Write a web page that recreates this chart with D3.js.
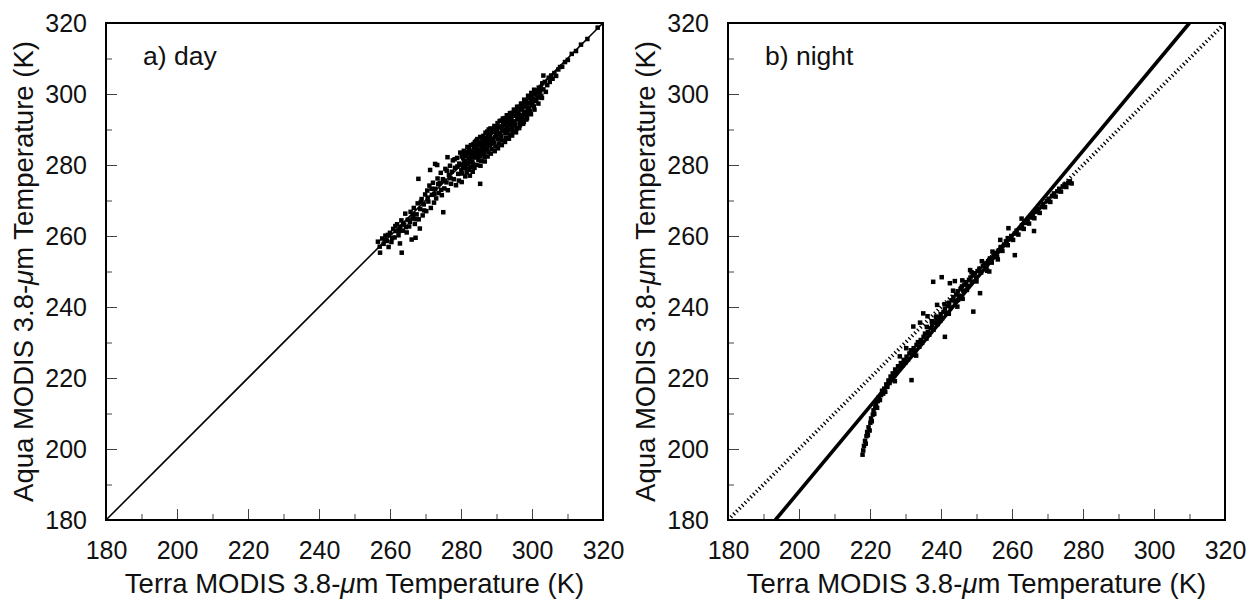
<!DOCTYPE html>
<html>
<head>
<meta charset="utf-8">
<script src="https://cdn.jsdelivr.net/npm/d3@7"></script>
<style>
  body { margin: 0; background: #fff; }
  svg text { font-family: "Liberation Sans", Arial, Helvetica, sans-serif; fill: #111; }
</style>
</head>
<body>
<script>
// axis range and tick values (K)
const domainK = [180, 320];
const majorTicks = [180, 200, 220, 240, 260, 280, 300, 320];
const minorTicks = [190, 210, 230, 250, 270, 290, 310];

// a) day: [Terra, Aqua] pairs
const dayPoints = [
  [256.6,258.4],[257.1,257.0],[257.2,255.3],[257.8,259.3],[258.2,257.8],[258.7,260.1],[259.1,258.6],[259.6,256.9],
  [260.0,260.9],[260.4,258.3],[260.9,262.0],[261.3,259.6],[261.7,261.4],[262.0,263.3],[262.4,260.2],[262.8,257.9],
  [263.3,255.3],[262.9,262.6],[263.2,264.4],[263.6,261.5],
  [264.0,263.2],[264.3,266.3],[264.7,261.0],[265.0,264.6],[265.4,262.7],[265.8,266.8],[266.1,259.0],[266.3,264.9],
  [266.7,267.9],[267.0,263.4],[267.2,259.5],[267.5,266.1],[267.8,269.2],
  [268.0,276.1],[268.1,264.7],[268.4,262.1],[268.5,267.6],[268.9,270.4],[269.2,265.8],[269.5,268.9],[269.9,271.7],
  [270.2,267.0],[270.5,272.8],[270.8,269.7],[271.1,274.2],[271.3,278.6],[271.5,267.9],[271.8,271.6],
  [272.1,275.0],[272.4,269.4],[272.7,280.3],[272.7,273.3],[273.0,270.6],[273.3,280.0],[273.4,276.2],[273.7,272.1],
  [274.0,274.9],[274.3,277.8],[274.6,271.5],[274.9,276.0],[275.0,266.7],[275.3,273.4],[275.6,278.9],[275.9,275.1],
  [276.2,282.2],[276.3,272.9],[276.6,277.2],[276.9,279.8],[277.2,274.7],[277.4,278.1],[277.7,281.3],[278.0,276.0],
  [278.3,279.2],[278.6,274.3],[278.9,282.0],[279.2,277.5],[279.5,280.4],[279.8,283.5],[279.4,275.6],
  [280.2,275.2],[282.5,277.0],[285.4,274.7],
  [280.2,282.4],[280.5,279.1],[280.8,284.0],[280.3,277.6],[280.9,280.8],[280.6,281.9],[280.1,278.5],[280.7,283.1],
  [281.1,279.9],[281.4,283.7],[281.6,277.9],[281.3,281.2],[281.8,285.1],[281.9,280.4],[281.5,282.6],[281.2,276.8],
  [282.0,283.3],[282.3,278.6],[282.6,281.7],[282.8,285.6],[282.1,280.2],[282.4,284.2],[282.9,279.4],[282.7,282.9],
  [283.2,281.0],[283.5,285.9],[283.8,279.2],[283.1,283.8],[283.6,282.3],[283.9,286.4],[283.3,278.1],[283.7,284.7],
  [284.0,282.1],[284.2,286.8],[284.5,280.0],[284.8,284.3],[284.3,283.0],[284.9,281.4],[284.6,287.3],[284.1,285.2],
  [285.1,283.6],[285.4,287.9],[285.7,281.2],[285.2,285.7],[285.9,284.1],[285.5,279.8],[285.8,286.6],[285.3,282.5],
  [286.0,284.9],[286.3,288.2],[286.6,282.3],[286.2,286.7],[286.8,285.3],[286.9,289.1],[286.4,283.4],[286.7,281.0],
  [287.1,285.8],[287.4,289.4],[287.7,283.7],[287.2,287.6],[287.9,286.2],[287.5,282.4],[287.8,290.0],[287.3,284.6],
  [288.0,286.8],[288.3,290.3],[288.6,284.5],[288.2,288.5],[288.9,287.1],[288.4,283.2],[288.7,289.6],[288.1,285.5],
  [289.1,287.4],[289.4,291.0],[289.7,285.2],[289.2,289.3],[289.9,288.0],[289.5,283.9],[289.8,290.6],[289.3,286.3],
  [290.0,288.2],[290.3,291.8],[290.6,286.0],[290.2,290.1],[290.8,288.9],[290.4,284.7],[290.9,292.4],[290.5,287.3],
  [291.1,289.0],[291.4,292.5],[291.7,286.9],[291.2,290.8],[291.9,289.7],[291.5,285.6],[291.8,293.1],[291.3,288.1],
  [292.0,289.8],[292.3,293.2],[292.6,287.6],[292.2,291.6],[292.8,290.4],[292.4,286.5],[292.9,294.0],[292.5,288.9],
  [293.1,290.6],[293.4,294.0],[293.7,288.5],[293.2,292.3],[293.9,291.2],[293.5,287.4],[293.8,294.6],[293.3,289.7],
  [294.0,291.5],[294.3,294.7],[294.6,289.4],[294.2,293.1],[294.8,292.0],[294.4,288.3],[294.9,295.6],[294.5,290.5],
  [295.1,292.3],[295.4,295.5],[295.7,290.3],[295.2,293.9],[295.9,292.9],[295.5,289.2],[295.8,296.4],[295.3,291.2],
  [296.0,293.1],[296.3,296.4],[296.6,291.2],[296.2,294.7],[296.8,293.8],[296.4,290.4],[296.9,297.3],[296.5,292.1],
  [297.1,294.0],[297.4,297.2],[297.7,292.1],[297.2,295.6],[297.9,294.8],[297.5,291.6],[297.8,298.4],[297.3,293.0],
  [298.0,295.0],[298.3,298.1],[298.6,293.2],[298.2,296.5],[298.8,295.8],[298.4,292.8],[298.9,299.5],[298.5,294.1],
  [299.1,296.0],[299.4,299.0],[299.7,294.3],[299.2,297.4],[299.9,296.8],[299.5,295.2],[299.8,300.3],
  [300.1,297.1],[300.4,300.0],[300.7,295.6],[300.2,298.5],[300.9,298.0],[300.6,301.2],
  [301.2,298.4],[301.5,300.9],[301.8,297.3],[301.3,299.6],[301.9,301.8],
  [302.1,299.8],[302.5,302.0],[302.8,298.9],[302.3,300.9],[302.9,303.0],
  [303.2,301.3],[303.6,303.4],[303.9,300.6],[304.3,302.5],[304.7,304.6],[305.0,303.4],[305.4,305.2],[303.2,305.2],
  [305.8,304.3],
  [306.3,305.9],[306.8,305.1],[307.4,306.9],[307.9,307.6],[308.5,307.7],[309.3,309.0],[310.1,309.6],[311.2,311.3],
  [312.4,312.1],[313.8,313.9],[315.6,315.5],[318.5,318.7],
  [280.4,280.1],[281.0,282.9],[281.7,279.0],[282.2,284.9],[282.5,280.9],[283.0,282.6],[283.4,280.3],[284.4,285.9],
  [284.7,282.4],[285.0,286.4],[285.6,283.1],[286.1,287.5],[286.5,284.2],[287.0,286.6],[287.6,288.7],[288.1,287.7],
  [288.5,285.9],[289.0,290.0],[289.6,287.8],[290.1,289.5],[290.7,290.6],[291.0,287.2],[291.6,290.2],[292.1,292.8],
  [292.7,289.2],[293.0,291.7],[293.6,293.3],[294.1,290.0],[294.7,293.9],[295.0,291.8],[295.6,294.6],[296.1,295.4],
  [296.7,292.7],[297.0,296.3],[297.6,294.2],[298.1,297.2],[298.7,297.3],[299.0,294.8],[299.6,298.1],[300.0,299.3],
  [300.5,296.5],[301.0,300.3],[301.7,299.0],[302.2,301.4],[302.6,299.5],[283.8,283.4],[285.9,285.6],[287.8,287.0],
  [289.8,289.2],[291.9,291.3],[293.8,292.7],[295.9,294.0],[297.8,296.6],[279.0,279.6],[278.2,281.6],[277.0,276.3],
  [276.0,278.4],[275.2,275.6],[274.4,273.0],[273.6,274.6],[272.5,271.9],[271.7,273.3],[270.6,270.8],[269.6,267.2],
  [268.7,269.6],[267.4,264.8],[266.5,266.0],[265.6,264.0],[264.5,262.5],[263.7,263.5],[262.6,261.4],[261.5,262.8],
  [260.6,259.4],[259.4,260.3],[258.5,259.0]
];

// b) night: [Terra, Aqua] pairs
const nightPoints = [
  [217.9,198.4],[218.1,199.6],[218.3,200.9],[218.6,202.3],[218.8,201.5],[219.0,203.6],[219.2,204.8],[219.4,203.9],
  [219.6,206.1],[219.9,205.2],[220.1,207.4],[220.3,208.6],[220.5,207.8],[220.8,209.7],[221.0,210.9],[221.2,209.9],
  [221.5,211.8],[221.7,212.7],[222.0,211.6],[222.2,213.5],[222.5,214.6],[222.8,213.8],[223.1,215.2],[223.4,216.4],
  [223.7,215.6],[224.0,217.0],[224.3,216.1],[224.6,218.2],[224.9,217.5],[225.2,219.3],[225.5,218.6],[225.8,220.4],
  [226.1,219.7],[226.4,221.3],[226.8,220.6],[227.1,222.4],[227.5,221.7],[227.9,223.3],[228.3,222.6],[228.7,224.2],
  [229.1,223.5],[229.5,225.1],[229.9,224.3],[230.3,226.0],[230.7,225.2],[231.1,226.9],[231.5,227.8],[231.9,226.6],
  [232.3,228.4],[232.7,227.5],[233.1,229.3],[233.5,230.1],[233.9,228.8],[234.3,230.7],[234.7,229.9],[235.1,231.6],
  [235.5,232.5],[235.9,231.1],[236.3,233.0],[236.7,232.2],[237.1,234.0],[237.5,234.9],[237.9,233.6],[238.3,235.5],
  [238.7,236.4],[239.1,235.2],[239.5,237.1],[239.9,238.0],[240.3,236.8],[240.7,238.6],[241.1,239.5],[241.5,238.3],
  [241.9,240.3],[242.3,241.2],[242.7,239.9],[243.1,241.9],[243.5,242.8],[243.9,241.6],[244.3,243.5],[244.7,244.4],
  [245.1,243.2],[245.5,245.0],[245.9,245.8],[246.3,244.6],[246.7,246.3],[247.1,247.0],[247.5,245.9],[247.9,247.6],
  [248.3,248.3],[248.7,247.1],[249.1,248.9],[249.5,249.5],[249.9,248.3],[250.3,250.1],[250.8,250.8],[251.3,249.7],
  [251.8,251.5],[252.3,252.2],[252.8,251.0],[253.3,252.9],[253.8,253.7],[254.3,252.5],[254.8,254.4],[255.3,255.2],
  [255.8,254.1],[256.3,256.0],[256.8,256.9],[257.3,255.8],[257.8,257.6],[258.3,258.5],[258.8,257.4],[259.3,259.1],
  [259.8,260.0],[260.3,258.9],[260.8,260.7],[261.3,261.5],[261.8,260.4],[262.3,262.2],[262.8,263.0],[263.3,262.0],
  [263.8,263.7],[264.3,264.5],[264.8,263.5],[265.3,265.2],[265.8,266.0],[266.3,265.0],[266.8,266.8],[267.3,267.5],
  [267.8,266.5],[268.3,268.2],[268.8,269.0],[269.3,268.1],[269.8,269.8],[270.3,270.5],[270.8,269.6],[271.3,271.3],
  [271.8,272.0],[272.3,271.1],[272.8,272.6],[273.3,273.3],[273.8,272.5],[274.3,273.9],[274.8,274.5],[275.3,273.8],
  [275.8,275.0],[276.3,275.4],[276.8,274.8],
  [237.8,247.1],[240.2,248.4],[242.5,246.7],[243.9,247.3],[248.2,250.4],[259.0,262.2],[251.0,243.9],[249.1,238.7],
  [241.1,231.6],[231.7,219.4],[260.8,254.6],[266.2,261.4],[235.0,238.2],[232.2,234.5],[258.8,259.4],[234.1,235.6],
  [236.2,237.4],[238.9,240.6],[244.6,240.1],[246.1,242.3],[253.6,250.0],[256.7,258.9],[262.7,264.9],[230.2,228.4],
  [228.4,226.1],[227.0,219.1],[233.0,226.3],
  [236.0,234.4],[237.4,236.0],[238.6,237.3],[239.8,236.1],[241.0,240.8],[242.2,238.1],[243.4,244.6],[244.8,242.0],
  [246.0,247.5],[247.3,244.8],[248.6,249.8],[250.0,247.2],[251.5,252.9],[253.0,250.2],[254.5,255.6],[256.0,253.4]
];

// reference lines: 1:1 and the night fit (Aqua = 1.2 * Terra - 52)
const oneToOne = [[180, 180], [320, 320]];
const nightFit = [[193.33, 180], [310, 320]];

const SIZE = 497;
const TOP = 23;

const svg = d3.select("body").append("svg")
  .attr("width", 1258)
  .attr("height", 601);

const x = d3.scaleLinear().domain(domainK).range([0, SIZE]);
const y = d3.scaleLinear().domain(domainK).range([SIZE, 0]);
const line = d3.line().x(d => x(d[0])).y(d => y(d[1]));

function panel(left, label, points, lines) {
  const g = svg.append("g").attr("transform", `translate(${left},${TOP})`);

  // minor ticks, inside
  g.append("g").attr("transform", `translate(0,${SIZE})`)
    .call(d3.axisBottom(x).tickValues(minorTicks).tickSize(-6).tickFormat(""))
    .call(a => a.select(".domain").remove());
  g.append("g")
    .call(d3.axisLeft(y).tickValues(minorTicks).tickSize(-6).tickFormat(""))
    .call(a => a.select(".domain").remove());

  // major ticks with labels
  const xa = g.append("g").attr("transform", `translate(0,${SIZE})`)
    .call(d3.axisBottom(x).tickValues(majorTicks).tickSize(-11).tickPadding(21));
  const ya = g.append("g")
    .call(d3.axisLeft(y).tickValues(majorTicks).tickSize(-11).tickPadding(19));
  [xa, ya].forEach(a => {
    a.select(".domain").remove();
    a.selectAll("text").style("font-size", "25px").attr("fill", "#111");
  });
  g.selectAll(".tick line").attr("stroke", "#444");

  lines.forEach(l => {
    g.append("path").datum(l.data)
      .attr("d", line)
      .attr("fill", "none")
      .attr("stroke", "#000")
      .attr("stroke-width", l.width)
      .attr("stroke-dasharray", l.dash || null);
  });

  g.append("g").selectAll("rect").data(points).join("rect")
    .attr("x", d => x(d[0]) - 2.25)
    .attr("y", d => y(d[1]) - 2.25)
    .attr("width", 4.5)
    .attr("height", 4.5)
    .attr("fill", "#000");

  g.append("rect")
    .attr("width", SIZE).attr("height", SIZE)
    .attr("fill", "none").attr("stroke", "#000").attr("stroke-width", 2);

  g.append("text")
    .attr("x", 37).attr("y", 42)
    .style("font-size", "26.5px")
    .text(label);

  const xt = g.append("text")
    .attr("x", SIZE / 2).attr("y", SIZE + 73)
    .attr("text-anchor", "middle")
    .style("font-size", "27.5px");
  xt.append("tspan").text("Terra MODIS 3.8-");
  xt.append("tspan").style("font-style", "italic").text("μ");
  xt.append("tspan").text("m Temperature (K)");

  const yt = g.append("text")
    .attr("transform", `translate(-73,${SIZE / 2}) rotate(-90)`)
    .attr("text-anchor", "middle")
    .style("font-size", "27.5px");
  yt.append("tspan").text("Aqua MODIS 3.8-");
  yt.append("tspan").style("font-style", "italic").text("μ");
  yt.append("tspan").text("m Temperature (K)");
}

panel(106, "a) day", dayPoints, [{ data: oneToOne, width: 1.6 }]);
panel(728, "b) night", nightPoints, [
  { data: oneToOne, width: 3.8, dash: "1.3,2.7" },
  { data: nightFit, width: 3.6 }
]);
</script>
</body>
</html>
